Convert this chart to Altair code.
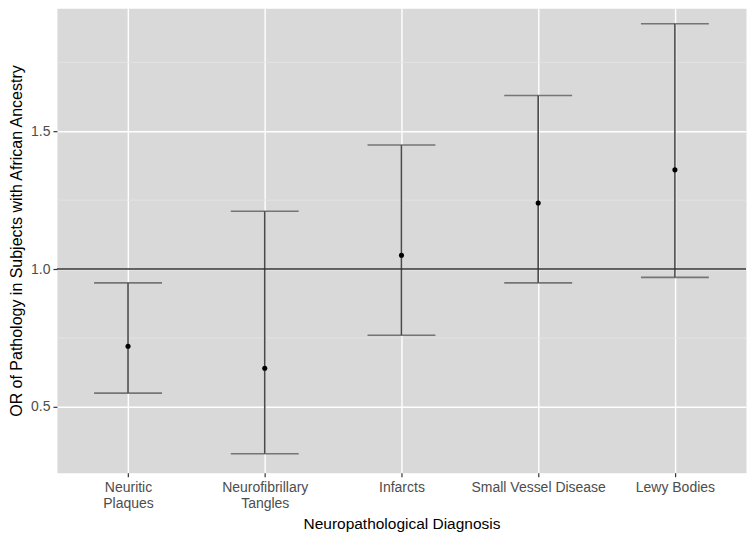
import altair as alt
import pandas as pd

categories = ["Neuritic\nPlaques", "Neurofibrillary\nTangles", "Infarcts",
              "Small Vessel Disease", "Lewy Bodies"]
estimate = [0.72, 0.64, 1.05, 1.24, 1.36]
lower = [0.55, 0.33, 0.76, 0.95, 0.97]
upper = [0.95, 1.21, 1.45, 1.63, 1.89]
y_ticks = [0.5, 1.0, 1.5]
minor_grid = [0.75, 1.25, 1.75]
ref_value = [1.0]

df = pd.DataFrame({"cat": categories, "est": estimate, "lo": lower, "hi": upper})

W, H = 690, 465
font = "Liberation Sans"

x_enc = alt.X("cat:N", sort=categories,
              scale=alt.Scale(type="point", padding=0.52),
              axis=alt.Axis(title="Neuropathological Diagnosis",
                            labelExpr="split(datum.label, '\\n')",
                            labelAngle=0, labelFontSize=14, labelColor="#4d4d4d",
                            labelFont=font, labelPadding=4, labelLineHeight=16,
                            tickSize=4, tickColor="#333333", tickWidth=1.2,
                            domain=False, grid=True, gridColor="white", gridWidth=1.4,
                            titleFont=font, titleFontSize=15.5, titleFontWeight="normal",
                            titleColor="#000000", titlePadding=6))
y_scale = alt.Scale(domain=[0.261, 1.946], nice=False, zero=False)
y_axis = alt.Axis(title="OR of Pathology in Subjects with African Ancestry",
                  values=y_ticks, format=".1f", labelFontSize=14, labelColor="#4d4d4d",
                  labelFont=font, labelPadding=3, tickSize=4, tickColor="#333333",
                  tickWidth=1.2, domain=False, grid=True, gridColor="white",
                  gridWidth=1.4, titleFont=font, titleFontSize=16,
                  titleFontWeight="normal", titleColor="#000000", titlePadding=6)

base = alt.Chart(df)

minor = alt.Chart(pd.DataFrame({"v": minor_grid})).mark_rule(
    color="#e6e6e6", strokeWidth=0.8).encode(
    y=alt.Y("v:Q", scale=y_scale, axis=y_axis))

hline = alt.Chart(pd.DataFrame({"v": ref_value})).mark_rule(
    color="#333333", strokeWidth=1.5).encode(y=alt.Y("v:Q", scale=y_scale))

bars = base.mark_rule(color="#4a4a4a", strokeWidth=1.6).encode(
    x=x_enc, y=alt.Y("lo:Q", scale=y_scale), y2="hi:Q")

cap_lo = base.mark_tick(color="#4a4a4a", thickness=1.6, size=68,
                        orient="horizontal").encode(
    x=alt.X("cat:N", sort=categories), y=alt.Y("lo:Q", scale=y_scale))
cap_hi = base.mark_tick(color="#4a4a4a", thickness=1.6, size=68,
                        orient="horizontal").encode(
    x=alt.X("cat:N", sort=categories), y=alt.Y("hi:Q", scale=y_scale))

points = base.mark_point(filled=True, color="black", size=26, opacity=1).encode(
    x=alt.X("cat:N", sort=categories), y=alt.Y("est:Q", scale=y_scale))

chart = alt.layer(minor, bars, hline, cap_lo, cap_hi, points).properties(
    width=W, height=H,
    padding={"left": 0, "top": 0, "right": 0, "bottom": 0},
    background="white",
).configure_view(fill="#d9d9d9", strokeOpacity=0)

chart.save("out.html", embed_options={"renderer": "svg", "actions": False})
